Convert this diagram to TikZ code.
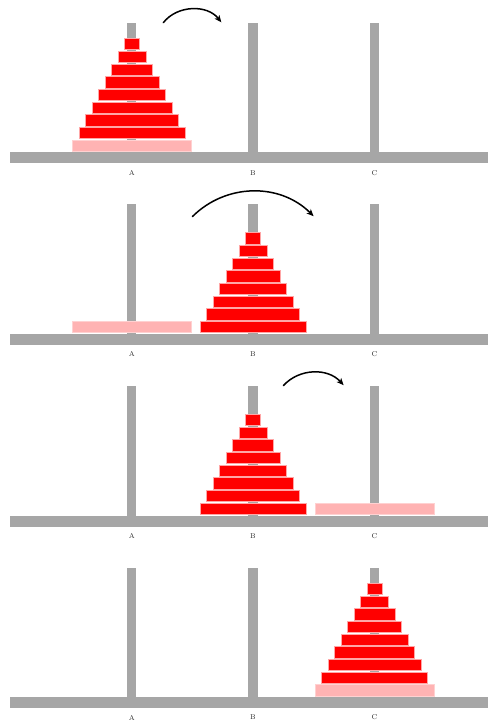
\documentclass[tikz,border=0pt]{standalone}
\usetikzlibrary{arrows.meta}
\definecolor{peggray}{RGB}{166,166,166}
\definecolor{diskpink}{RGB}{255,179,179}
\tikzset{
  x=1pt, y=1pt,
  rod/.style={fill=peggray},
  disk/.style={fill=red, draw=red!35, line width=0.3pt},
  bigdisk/.style={fill=diskpink, draw=diskpink!60, line width=0.3pt},
  pegname/.style={font=\fontsize{7}{8}\selectfont, text=black!85, inner sep=0pt},
  movearrow/.style={-{Stealth[length=7pt,width=6pt,inset=1.8pt]}, line width=1.5pt, line cap=round}
}
% one disk: #1 panel, #2 peg centre x, #3 level from the bottom, #4 size (1 = smallest, 9 = largest)
\newcommand\hdisk[4]{%
  \pgfmathsetmacro\halfw{(15+(#4-1)*13)/2}%
  \pgfmathsetmacro\ybot{-(152.3+#1*181.6)+1.3+(#3)*12.67}%
  \ifnum#4=9 \def\dstyle{bigdisk}\else\def\dstyle{disk}\fi
  \path[\dstyle] (#2-\halfw,\ybot) rectangle (#2+\halfw,\ybot+11.3);
}
\begin{document}
\begin{tikzpicture}
\useasboundingbox (0,0) rectangle (488,-720);
% bases, pegs and peg names of the four stages
\foreach \p in {0,1,2,3}{
  \pgfmathsetmacro\basey{-(152.3+\p*181.6)}
  \fill[rod] (10,\basey) rectangle (488,\basey-11);
  \foreach \c/\n in {131.7/A,253/B,374.5/C}{
    \fill[rod] (\c-4.65,\basey) rectangle (\c+4.65,\basey+129.6);
    \node[pegname] (lab\n\p) at (\c,\basey-20.4) {\n};
  }
}
% stage 1: everything on A
\foreach \k in {1,...,9} \hdisk{0}{131.7}{9-\k}{\k};
% stage 2: largest disk on A, the rest on B
\hdisk{1}{131.7}{0}{9}
\foreach \k in {1,...,8} \hdisk{1}{253}{8-\k}{\k};
% stage 3: the rest on B, largest disk on C
\foreach \k in {1,...,8} \hdisk{2}{253}{8-\k}{\k};
\hdisk{2}{374.5}{0}{9}
% stage 4: everything on C
\foreach \k in {1,...,9} \hdisk{3}{374.5}{9-\k}{\k};
% move arrows
\coordinate (mvAs) at (163.3,-22.7);
\coordinate (mvAe) at (221.3,-22.3);
\draw[movearrow] (mvAs) to[out=52,in=128] (mvAe);
\coordinate (mvBs) at (192.3,-216.7);
\coordinate (mvBe) at (313.6,-216.2);
\draw[movearrow] (mvBs) to[out=45,in=135] (mvBe);
\coordinate (mvCs) at (283.3,-385.7);
\coordinate (mvCe) at (343.6,-385.2);
\draw[movearrow] (mvCs) to[out=48,in=132] (mvCe);
\end{tikzpicture}
\end{document}
